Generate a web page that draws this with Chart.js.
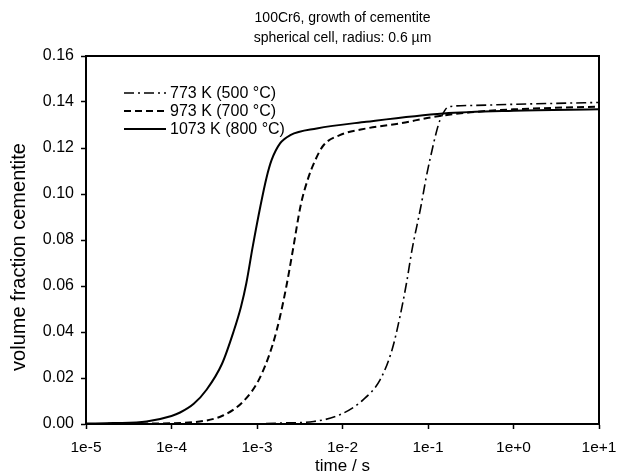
<!DOCTYPE html>
<html>
<head>
<meta charset="utf-8">
<script src="https://cdn.jsdelivr.net/npm/chart.js@4.4.1/dist/chart.umd.min.js"></script>
<style>
  html, body { margin: 0; padding: 0; background: #fff; }
</style>
</head>
<body>
<canvas id="chartCementite" width="617" height="476"></canvas>
<script>
// time in s, volume fraction of cementite
const t773 = [1e-5, 1e-3, 1.86e-3, 4.6e-3, 9.3e-3, 1.74e-2, 2.75e-2, 3.8e-2, 4.7e-2, 5.6e-2, 6.5e-2, 8.3e-2, 9.5e-2, 0.105, 0.132, 0.145, 0.174, 0.316, 1, 10];
const v773 = [0, 0.0001, 0.0004, 0.0011, 0.0040, 0.0105, 0.0192, 0.0323, 0.0467, 0.0612, 0.0757, 0.095, 0.107, 0.1147, 0.1300, 0.1340, 0.1379, 0.1385, 0.1390, 0.1398];

const t973 = [1e-5, 5e-5, 1.8e-4, 4.0e-4, 6.9e-4, 1.05e-3, 1.51e-3, 1.86e-3, 2.24e-3, 2.63e-3, 3.24e-3, 3.98e-3, 4.8e-3, 6.0e-3, 9.3e-3, 1.9e-2, 4.7e-2, 0.115, 0.316, 1, 10];
const v973 = [0, 0.0002, 0.0008, 0.0037, 0.0098, 0.0192, 0.0340, 0.0467, 0.0612, 0.0757, 0.095, 0.107, 0.1147, 0.1212, 0.1256, 0.1285, 0.1307, 0.1335, 0.1355, 0.1368, 0.1380];

const t1073 = [1e-5, 2.1e-5, 5.1e-5, 1.0e-4, 1.26e-4, 1.82e-4, 2.57e-4, 3.9e-4, 5.3e-4, 6.5e-4, 7.5e-4, 8.9e-4, 1.1e-3, 1.29e-3, 1.48e-3, 1.86e-3, 2.45e-3, 5.0e-3, 1.9e-2, 0.151, 1, 10];
const v1073 = [0.0002, 0.0004, 0.0011, 0.0035, 0.005, 0.0088, 0.0149, 0.0262, 0.040, 0.051, 0.0612, 0.0770, 0.095, 0.107, 0.1147, 0.122, 0.1256, 0.1285, 0.1314, 0.1350, 0.1362, 0.1368];

const seriesLabels = ['773 K (500 °C)', '973 K (700 °C)', '1073 K (800 °C)'];
const xTicks = [1e-5, 1e-4, 1e-3, 1e-2, 1e-1, 1, 10];
const yTitle = 'volume fraction cementite';

const FONT = "'Liberation Sans', Arial, sans-serif";

function pts(t, v) {
  return t.map((x, i) => ({ x: x, y: v[i] }));
}

// box around the plot, legend in the upper left of the plot, y axis title
const frameLegend = {
  id: 'frameLegend',
  afterDatasetsDraw(chart) {
    const ctx = chart.ctx;
    const a = chart.chartArea;
    ctx.save();
    ctx.strokeStyle = '#000';
    ctx.lineWidth = 2;
    ctx.beginPath();
    ctx.moveTo(a.left, a.top);
    ctx.lineTo(a.right, a.top);
    ctx.lineTo(a.right, a.bottom);
    ctx.stroke();

    ctx.font = '16px ' + FONT;
    ctx.textBaseline = 'middle';
    ctx.fillStyle = '#000';
    chart.data.datasets.forEach((ds, i) => {
      const y = 93 + i * 18;
      ctx.lineWidth = ds.borderWidth;
      ctx.setLineDash(ds.borderDash || []);
      ctx.beginPath();
      ctx.moveTo(124, y);
      ctx.lineTo(166, y);
      ctx.stroke();
      ctx.setLineDash([]);
      ctx.fillText(ds.label, 170, y + 1);
    });

    // y title sits a little below the middle of the axis in the original
    ctx.translate(19, 257);
    ctx.rotate(-Math.PI / 2);
    ctx.textAlign = 'center';
    ctx.font = '20px ' + FONT;
    ctx.fillText(yTitle, 0, 0);
    ctx.restore();
  }
};

const ctx = document.getElementById('chartCementite').getContext('2d');

const chartCementite = new Chart(ctx, {
  type: 'line',
  data: {
    datasets: [
      {
        label: seriesLabels[0],
        data: pts(t773, v773),
        borderColor: '#000',
        borderWidth: 1.6,
        borderDash: [10, 4, 2, 4],
        pointRadius: 0,
        cubicInterpolationMode: 'monotone'
      },
      {
        label: seriesLabels[1],
        data: pts(t973, v973),
        borderColor: '#000',
        borderWidth: 2,
        borderDash: [7, 4],
        pointRadius: 0,
        cubicInterpolationMode: 'monotone'
      },
      {
        label: seriesLabels[2],
        data: pts(t1073, v1073),
        borderColor: '#000',
        borderWidth: 2,
        pointRadius: 0,
        cubicInterpolationMode: 'monotone'
      }
    ]
  },
  options: {
    responsive: false,
    animation: false,
    layout: { padding: { left: 0, right: 18, top: 0, bottom: 0 } },
    plugins: {
      legend: { display: false },
      tooltip: { enabled: false },
      title: {
        display: true,
        fullSize: false,
        text: ['100Cr6, growth of cementite', 'spherical cell, radius: 0.6 µm'],
        color: '#000',
        font: { family: FONT, size: 14, weight: 'normal', lineHeight: '20px' },
        padding: { top: 8, bottom: 8 }
      }
    },
    scales: {
      x: {
        type: 'logarithmic',
        min: 1e-5,
        max: 10,
        afterBuildTicks: scale => {
          scale.ticks = xTicks.map(v => ({ value: v }));
        },
        afterFit: scale => {
          scale.height = 52;
          scale.paddingLeft = 0;
          scale.paddingRight = 0;
        },
        ticks: {
          color: '#000',
          font: { family: FONT, size: 15.5 },
          padding: 9,
          maxRotation: 0,
          autoSkip: false,
          callback: v => Number(v).toExponential(0)
        },
        grid: { display: true, drawOnChartArea: false, drawTicks: true, tickLength: 5, tickColor: '#000', tickWidth: 1.5 },
        border: { display: true, color: '#000', width: 2 },
        title: {
          display: true,
          text: 'time / s',
          color: '#000',
          font: { family: FONT, size: 17, lineHeight: 1 },
          padding: { top: 0, bottom: 1 }
        }
      },
      y: {
        min: 0,
        max: 0.16,
        afterFit: scale => { scale.width = 86; },
        ticks: {
          stepSize: 0.02,
          color: '#000',
          font: { family: FONT, size: 16 },
          padding: 7,
          callback: v => Number(v).toFixed(2)
        },
        grid: { display: true, drawOnChartArea: false, drawTicks: true, tickLength: 5, tickColor: '#000', tickWidth: 1.5 },
        border: { display: true, color: '#000', width: 2 },
        title: { display: false }
      }
    }
  },
  plugins: [frameLegend]
});
</script>
</body>
</html>
